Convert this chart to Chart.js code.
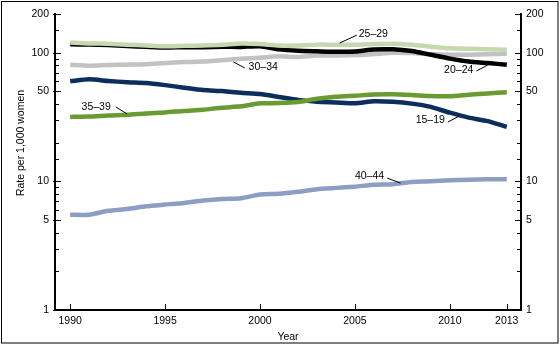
<!DOCTYPE html>
<html>
<head>
<meta charset="utf-8">
<script src="https://cdn.jsdelivr.net/npm/chart.js@4"></script>
<style>
  html, body { margin: 0; padding: 0; background: #fff; }
  canvas { display: block; }
</style>
</head>
<body>
<canvas id="chart" width="560" height="345"></canvas>
<script>
// Birth rates by age of mother, 1990-2013 (per 1,000 women)
const years = [1990, 1991, 1992, 1993, 1994, 1995, 1996, 1997, 1998, 1999, 2000, 2001,
               2002, 2003, 2004, 2005, 2006, 2007, 2008, 2009, 2010, 2011, 2012, 2013];
const age15_19 = [59.9, 62.1, 60.3, 59.0, 58.2, 56.0, 53.5, 51.3, 50.3, 48.8, 47.7, 45.3,
                  43.0, 41.6, 41.1, 40.5, 41.9, 41.5, 40.2, 37.9, 34.2, 31.3, 29.4, 26.5];
const age20_24 = [116.5, 115.7, 114.6, 112.6, 111.1, 109.8, 110.4, 110.4, 111.2, 111.0, 112.3, 106.2,
                  103.6, 102.6, 101.7, 102.2, 105.9, 106.3, 103.0, 96.3, 90.0, 85.3, 83.1, 80.7];
const age25_29 = [120.2, 118.2, 117.4, 115.5, 113.9, 112.2, 113.1, 113.8, 115.1, 117.8, 116.7, 113.8,
                  113.6, 115.6, 115.5, 115.5, 116.7, 117.5, 115.1, 111.5, 108.3, 107.2, 106.5, 105.5];
const age30_34 = [80.8, 79.2, 80.2, 80.8, 81.5, 83.2, 84.6, 85.3, 87.4, 89.6, 91.5, 93.9,
                  92.6, 95.1, 95.3, 95.8, 97.7, 99.9, 99.3, 97.5, 96.5, 96.5, 97.3, 98.0];
const age35_39 = [31.7, 31.9, 32.5, 32.9, 33.7, 34.3, 35.3, 36.1, 37.4, 38.3, 40.4, 40.6,
                  41.4, 43.8, 45.4, 46.3, 47.3, 47.5, 46.9, 46.1, 45.9, 47.2, 48.3, 49.3];
const age40_44 = [5.5, 5.5, 5.9, 6.1, 6.4, 6.6, 6.8, 7.1, 7.3, 7.4, 7.9, 8.0,
                  8.3, 8.7, 8.9, 9.1, 9.4, 9.5, 9.9, 10.0, 10.2, 10.3, 10.4, 10.4];

const xTicks = [1990, 1995, 2000, 2005, 2010, 2013];
const yLabels = [1, 5, 10, 50, 100, 200];

// series labels: text anchor and leader line, in (year, rate) units
const seriesLabels = [
  { text: '25\u201329', x: 2005.2, y: 140, x1: 2005.1, y1: 137, x2: 2004.2, y2: 119 },
  { text: '30\u201334', x: 1999.4, y: 77.4, x1: 1999.2, y1: 76.1, x2: 1998.6, y2: 84.7 },
  { text: '20\u201324', x: 2009.7, y: 73.4, x1: 2011.4, y1: 72.1, x2: 2012.0, y2: 80.3 },
  { text: '15\u201319', x: 2008.2, y: 30.0, x1: 2009.9, y1: 28.9, x2: 2010.5, y2: 32.2 },
  { text: '35\u201339', x: 1990.6, y: 37.9, x1: 1992.4, y1: 37.9, x2: 1993.0, y2: 33.4 },
  { text: '40\u201344', x: 2005.0, y: 11.0, x1: 2006.7, y1: 10.6, x2: 2007.4, y2: 9.7 }
];

const FONT = 'Arial, "Liberation Sans", sans-serif';
Chart.defaults.font.family = FONT;
Chart.defaults.font.size = 10.5;
Chart.defaults.color = '#000';

const pts = arr => arr.map((v, i) => ({ x: years[i], y: v }));
const line = (label, arr, color, order) => ({
  label, data: pts(arr), borderColor: color, backgroundColor: color,
  borderWidth: 4.5, pointRadius: 0, tension: 0.2, order
});

// inward tick marks, frame, y title and series labels
const decor = {
  id: 'decor',
  afterDatasetsDraw(chart) {
    const { ctx, chartArea: a, scales } = chart;
    const x = scales.x, y = scales.y;
    ctx.save();
    ctx.strokeStyle = '#000';
    ctx.lineWidth = 1;

    // y ticks both sides
    y.ticks.forEach(t => {
      const py = Math.round(y.getPixelForValue(t.value)) + 0.5;
      const big = yLabels.includes(t.value);
      ctx.beginPath();
      ctx.moveTo(a.left - (big ? 2 : 0), py); ctx.lineTo(a.left + (big ? 6 : 4), py);
      ctx.moveTo(a.right - (big ? 6 : 4), py); ctx.lineTo(a.right + (big ? 1 : 0), py);
      ctx.stroke();
    });
    // x ticks
    xTicks.forEach(v => {
      const px = Math.round(x.getPixelForValue(v)) + 0.5;
      ctx.beginPath();
      ctx.moveTo(px, a.bottom); ctx.lineTo(px, a.bottom - 6);
      ctx.stroke();
    });

    // series labels
    ctx.font = '10.5px ' + FONT;
    ctx.fillStyle = '#000';
    ctx.textAlign = 'left';
    ctx.textBaseline = 'middle';
    seriesLabels.forEach(l => {
      ctx.fillText(l.text, x.getPixelForValue(l.x), y.getPixelForValue(l.y));
      ctx.beginPath();
      ctx.moveTo(x.getPixelForValue(l.x1), y.getPixelForValue(l.y1));
      ctx.lineTo(x.getPixelForValue(l.x2), y.getPixelForValue(l.y2));
      ctx.stroke();
    });

    // y title
    ctx.save();
    ctx.translate(21, 143);
    ctx.rotate(-Math.PI / 2);
    ctx.textAlign = 'center';
    ctx.fillText('Rate per 1,000 women', 0, 0);
    ctx.restore();

    // outer frame
    ctx.strokeRect(1.5, 1.5, 556.5, 341.5);
    ctx.restore();
  }
};

const yAxis = pos => ({
  type: 'logarithmic', position: pos, min: 1, max: 200,
  grid: { display: false, drawTicks: false },
  border: { display: true, color: '#000', width: 2 },
  ticks: {
    autoSkip: false, padding: pos === 'left' ? 6 : 5, font: { size: 10.5 },
    callback: v => yLabels.includes(v) ? String(v) : ''
  },
  afterFit: s => { s.width = pos === 'left' ? 55 : 39; }
});

new Chart(document.getElementById('chart'), {
  type: 'line',
  data: {
    datasets: [
      line('25\u201329', age25_29, '#c6d9ae', 0),
      line('20\u201324', age20_24, '#000000', 1),
      line('30\u201334', age30_34, '#c2c2c2', 2),
      line('35\u201339', age35_39, '#6a9a32', 3),
      line('15\u201319', age15_19, '#0c2e5c', 4),
      line('40\u201344', age40_44, '#8d9ec4', 5)
    ]
  },
  options: {
    responsive: false,
    animation: false,
    layout: { padding: { top: 14, left: 0, right: 0, bottom: 0 } },
    plugins: { legend: { display: false }, tooltip: { enabled: false } },
    scales: {
      x: {
        type: 'linear', min: 1989.2, max: 2013.75,
        grid: { display: false, drawTicks: false },
        border: { display: true, color: '#000', width: 2 },
        afterBuildTicks: s => { s.ticks = xTicks.map(v => ({ value: v })); },
        ticks: { autoSkip: false, maxRotation: 0, padding: 5, callback: v => String(v) },
        title: { display: true, text: 'Year', padding: { top: 0, bottom: 2 }, font: { size: 10.5 } },
        afterFit: s => { s.height = 35; }
      },
      y: yAxis('left'),
      y2: yAxis('right')
    }
  },
  plugins: [decor]
});
</script>
</body>
</html>
